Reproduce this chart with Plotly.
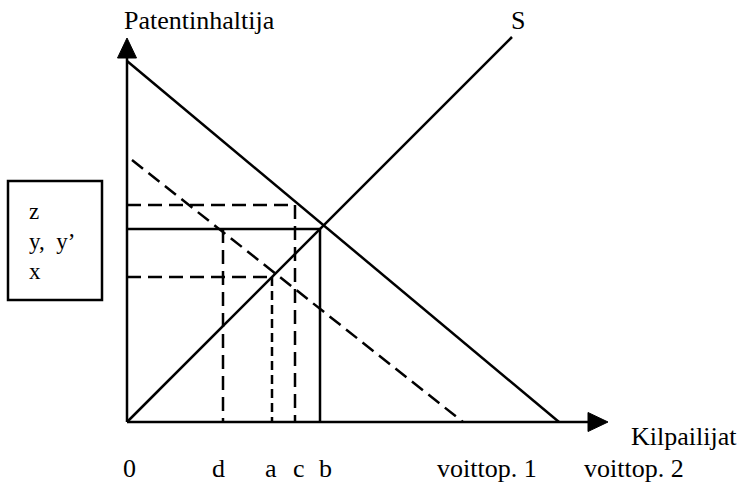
import plotly.graph_objects as go

# ---- data (diagram units; origin at the axes corner) ----
demand_x = [0, 432]          # solid demand line (voittop. 2)
demand_y = [361, 0]
demand2_x = [5, 336]         # dashed demand line (voittop. 1)
demand2_y = [262, 0]
supply_x = [0, 385]          # S line
supply_y = [0, 385]

level_names = ["z", "y", "x"]
level_values = [217, 193, 145]
point_names = ["d", "a", "c", "b"]
point_values = [96, 145, 168, 193]

y_axis_len = 364
x_axis_len = 461
arrow_len = 20
arrow_half = 9.5

W, H = 742, 483
ox, oy = 127, 422  # pixel position of origin

FONT = "Liberation Serif, Times New Roman, serif"
FS = 26
BLACK = "#000000"
LW = 2.5

fig = go.Figure()


def line(xs, ys, dash="solid"):
    fig.add_trace(go.Scatter(x=xs, y=ys, mode="lines",
                             line=dict(color=BLACK, width=LW, dash=dash),
                             hoverinfo="skip", showlegend=False))


# axes
line([0, 0], [0, y_axis_len])
line([0, x_axis_len], [0, 0])
# arrow heads
fig.add_trace(go.Scatter(x=[-arrow_half, arrow_half, 0, -arrow_half],
                         y=[y_axis_len, y_axis_len, y_axis_len + arrow_len, y_axis_len],
                         mode="lines", fill="toself", fillcolor=BLACK,
                         line=dict(color=BLACK, width=1), hoverinfo="skip", showlegend=False))
fig.add_trace(go.Scatter(x=[x_axis_len, x_axis_len, x_axis_len + arrow_len, x_axis_len],
                         y=[-arrow_half, arrow_half, 0, -arrow_half],
                         mode="lines", fill="toself", fillcolor=BLACK,
                         line=dict(color=BLACK, width=1), hoverinfo="skip", showlegend=False))

# curves
line(demand_x, demand_y)
line(demand2_x, demand2_y, dash="14px,7px")
line(supply_x, supply_y)

lv = dict(zip(level_names, level_values))
pv = dict(zip(point_names, point_values))
dash_long = "14px,7px"
dash_short = "9px,5px"

# z level / c
line([0, pv["c"], pv["c"]], [lv["z"], lv["z"], 0], dash=dash_long)
# y level / b (solid)
line([0, pv["b"], pv["b"]], [lv["y"], lv["y"], 0])
# d vertical
line([pv["d"], pv["d"]], [lv["y"], 0], dash=dash_long)
# x level
line([0, pv["a"]], [lv["x"], lv["x"]], dash=dash_long)
# a vertical
line([pv["a"], pv["a"]], [lv["x"], 0], dash=dash_short)

ann = []


def txt(x, y, s, xshift=0, yshift=0, xanchor="center", size=FS):
    ann.append(dict(x=x, y=y, text=s, showarrow=False, xanchor=xanchor, yanchor="middle",
                    xshift=xshift, yshift=yshift, align="left",
                    font=dict(family=FONT, size=size, color=BLACK)))


txt(72, 402, "Patentinhaltija")
txt(supply_x[1], supply_y[1], "S", xshift=6, yshift=17)
txt(x_axis_len + arrow_len, 0, "Kilpailijat", xshift=76, yshift=-14)

label_y = -46
txt(0, label_y, "0", xshift=2)
shifts = {"d": -5, "a": -1, "c": 4, "b": 5}
for n in point_names:
    txt(pv[n], label_y, n, xshift=shifts[n])
txt(demand2_x[1], label_y, "voittop. 1", xshift=24)
txt(demand_x[1], label_y, "voittop. 2", xshift=75)

# box with level labels
box_x0, box_x1 = 8 - ox, 102 - ox
box_y0, box_y1 = oy - 300, oy - 181
fig.add_shape(type="rect", x0=box_x0, x1=box_x1, y0=box_y0, y1=box_y1,
              line=dict(color=BLACK, width=LW), xref="x", yref="y")
box_text = "z<br>y,  y\u2019<br>x"
txt(27 - ox, oy - 241, box_text, xanchor="left", size=23)

fig.update_layout(
    width=W, height=H,
    margin=dict(l=0, r=0, t=0, b=0),
    paper_bgcolor="white", plot_bgcolor="white",
    xaxis=dict(range=[-ox, W - ox], visible=False, fixedrange=True),
    yaxis=dict(range=[oy - H, oy], visible=False, fixedrange=True),
    annotations=ann,
    showlegend=False,
)

fig.write_html("out.html",
               config={"displayModeBar": False},
               post_script="document.body.style.margin='0';document.body.style.overflow='hidden';")
